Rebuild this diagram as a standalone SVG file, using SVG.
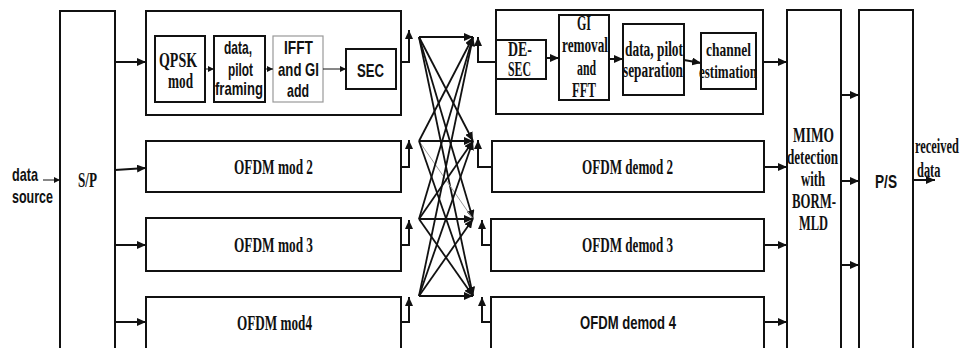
<svg xmlns="http://www.w3.org/2000/svg" width="961" height="348" viewBox="0 0 961 348">
<defs>
<marker id="ah" markerUnits="userSpaceOnUse" markerWidth="9" markerHeight="8" refX="9" refY="4" orient="auto"><path d="M0,0 L9,4 L0,8 z" fill="#111"/></marker>
<marker id="ahs" markerUnits="userSpaceOnUse" markerWidth="6" markerHeight="6" refX="6" refY="3" orient="auto"><path d="M0,0 L6,3 L0,6 z" fill="#111"/></marker>
<style>
.box{fill:#fff;stroke:#111;stroke-width:2}
.gbox{fill:#fff;stroke:#999;stroke-width:1.2}
.c{fill:none;stroke:#111;stroke-width:2;marker-end:url(#ah)}
.t{fill:none;stroke:#111;stroke-width:1;marker-end:url(#ahs)}
.x{fill:none;stroke:#111;stroke-width:1.8;marker-end:url(#ah)}
.sf{font-family:"Liberation Serif","Times New Roman",serif;font-weight:bold;font-size:20px;fill:#111}
.ss{font-family:"Liberation Sans",Arial,sans-serif;font-weight:bold;font-size:19px;fill:#111}
</style>
</defs>
<rect width="961" height="348" fill="#fff"/>

<g id="data-source"><text class="ss" x="12" y="181" textLength="26" lengthAdjust="spacingAndGlyphs">data</text><text class="ss" x="12" y="203" textLength="41" lengthAdjust="spacingAndGlyphs">source</text></g>

<g id="sp"><rect class="box" x="60" y="11" width="55" height="345"/><text class="sf" x="78" y="187" textLength="19" lengthAdjust="spacingAndGlyphs">S/P</text></g>

<g id="mod1"><rect class="box" x="146" y="11" width="255" height="104"/></g>
<g id="qpsk"><rect class="box" x="155" y="36" width="50" height="66"/><text class="sf" x="159" y="67" textLength="38" lengthAdjust="spacingAndGlyphs">QPSK</text><text class="sf" x="168" y="88" textLength="25" lengthAdjust="spacingAndGlyphs">mod</text></g>
<g id="framing"><rect class="box" x="214" y="36" width="51" height="66"/><text class="ss" x="224" y="54" textLength="28" lengthAdjust="spacingAndGlyphs">data,</text><text class="ss" x="228" y="76" textLength="25" lengthAdjust="spacingAndGlyphs">pilot</text><text class="ss" x="215" y="95" textLength="48" lengthAdjust="spacingAndGlyphs">framing</text></g>
<g id="ifft"><rect class="gbox" x="273" y="36" width="50" height="66"/><text class="ss" x="284" y="54" textLength="29" lengthAdjust="spacingAndGlyphs">IFFT</text><text class="ss" x="278" y="76" textLength="41" lengthAdjust="spacingAndGlyphs">and GI</text><text class="ss" x="287" y="97" textLength="22" lengthAdjust="spacingAndGlyphs">add</text></g>
<g id="sec"><rect class="box" x="346" y="49" width="50" height="40"/><text class="ss" x="357" y="77" textLength="27" lengthAdjust="spacingAndGlyphs">SEC</text></g>

<g id="mod2"><rect class="box" x="146" y="141" width="255" height="51"/><text class="sf" x="234" y="174" textLength="79" lengthAdjust="spacingAndGlyphs">OFDM mod 2</text></g>
<g id="mod3"><rect class="box" x="146" y="218" width="255" height="53"/><text class="sf" x="234" y="252" textLength="79" lengthAdjust="spacingAndGlyphs">OFDM mod 3</text></g>
<g id="mod4"><rect class="box" x="146" y="297" width="255" height="60"/><text class="sf" x="237" y="330" textLength="75" lengthAdjust="spacingAndGlyphs">OFDM mod4</text></g>

<g id="demod1"><rect class="box" x="496" y="10" width="267" height="104"/></g>
<g id="desec"><rect class="box" x="496" y="40" width="50" height="39"/><text class="sf" x="508" y="56" textLength="24" lengthAdjust="spacingAndGlyphs">DE-</text><text class="sf" x="508" y="76" textLength="23" lengthAdjust="spacingAndGlyphs">SEC</text></g>
<g id="gi"><rect class="box" x="559" y="15" width="50" height="85"/><text class="sf" x="577" y="30" textLength="14" lengthAdjust="spacingAndGlyphs">GI</text><text class="sf" x="562" y="52" textLength="46" lengthAdjust="spacingAndGlyphs">removal</text><text class="sf" x="577" y="75" textLength="19" lengthAdjust="spacingAndGlyphs">and</text><text class="sf" x="572" y="97" textLength="24" lengthAdjust="spacingAndGlyphs">FFT</text></g>
<g id="dps"><rect class="box" x="623" y="24" width="61" height="71"/><text class="sf" x="625" y="56" textLength="58" lengthAdjust="spacingAndGlyphs">data, pilot</text><text class="sf" x="623" y="77" textLength="60" lengthAdjust="spacingAndGlyphs">separation</text></g>
<g id="che"><rect class="box" x="701" y="33" width="55" height="56"/><text class="sf" style="font-size:19px"><tspan x="706" y="56" textLength="45" lengthAdjust="spacingAndGlyphs">channel</tspan><tspan x="699" y="78" textLength="58" lengthAdjust="spacingAndGlyphs">estimation</tspan></text></g>

<g id="demod2"><rect class="box" x="492" y="141" width="272" height="51"/><text class="sf" x="582" y="174" textLength="91" lengthAdjust="spacingAndGlyphs">OFDM demod 2</text></g>
<g id="demod3"><rect class="box" x="491" y="219" width="273" height="52"/><text class="sf" x="582" y="252" textLength="91" lengthAdjust="spacingAndGlyphs">OFDM demod 3</text></g>
<g id="demod4"><rect class="box" x="491" y="297" width="273" height="60"/><text class="ss" x="580" y="329" textLength="96" lengthAdjust="spacingAndGlyphs">OFDM demod 4</text></g>

<g id="mimo"><rect class="box" x="787" y="10" width="54" height="345"/><text class="sf" x="793" y="142" textLength="41" lengthAdjust="spacingAndGlyphs">MIMO</text><text class="sf" x="787" y="164" textLength="51" lengthAdjust="spacingAndGlyphs">detection</text><text class="sf" x="801" y="186" textLength="24" lengthAdjust="spacingAndGlyphs">with</text><text class="sf" x="792" y="208" textLength="44" lengthAdjust="spacingAndGlyphs">BORM-</text><text class="sf" x="799" y="230" textLength="29" lengthAdjust="spacingAndGlyphs">MLD</text></g>

<g id="ps"><rect class="box" x="859" y="10" width="54" height="345"/><text class="ss" x="875" y="188" textLength="22" lengthAdjust="spacingAndGlyphs">P/S</text></g>

<g id="received"><text class="sf" transform="translate(915,153) scale(0.62,1)">received</text><text class="sf" transform="translate(917,177) scale(0.62,1)">data</text></g>

<g id="connectors">
<path class="t" d="M43,180 L60,180"/>
<path class="c" d="M115,62 L146,62"/>
<path class="c" d="M115,170 L146,168"/>
<path class="c" d="M115,245 L146,245"/>
<path class="c" d="M115,322 L146,322"/>
<path class="t" d="M205,69 L214,69"/>
<path class="t" d="M265,69 L273,69"/>
<path class="t" d="M323,69 L346,69"/>
<path class="c" d="M401,62 L409,62 L409,30"/>
<path class="c" d="M401,167 L409,167 L409,140"/>
<path class="c" d="M401,245 L409,245 L409,220"/>
<path class="c" d="M401,322 L409,322 L409,297"/>

<path class="x" d="M419,37 L473,37"/>
<path class="x" d="M419,37 L473,141"/>
<path class="x" d="M419,37 L473,219"/>
<path class="x" d="M419,37 L473,296"/>
<path class="x" d="M419,141 L473,37"/>
<path class="x" d="M419,141 L473,141"/>
<path fill="none" stroke="#999" stroke-width="1" d="M419,141 L473,219"/>
<path class="x" d="M419,141 L473,296"/>
<path class="x" d="M419,219 L473,37"/>
<path class="x" d="M419,219 L473,141"/>
<path class="x" d="M419,219 L473,219"/>
<path class="x" d="M419,219 L473,296"/>
<path class="x" d="M419,296 L473,37"/>
<path class="x" d="M419,296 L473,141"/>
<path class="x" d="M419,296 L473,219"/>
<path class="x" d="M419,296 L473,296"/>

<path class="c" d="M496,62 L478,62 L478,37"/>
<path class="c" d="M492,167 L478,167 L478,140"/>
<path class="c" d="M491,245 L482,245 L482,220"/>
<path class="c" d="M491,322 L482,322 L482,297"/>
<path class="c" d="M546,58 L559,58"/>
<path class="c" d="M609,59 L623,59"/>
<path class="c" d="M684,60 L701,63"/>
<path class="c" d="M763,62 L787,62"/>
<path class="c" d="M764,167 L787,167"/>
<path class="c" d="M764,245 L787,245"/>
<path class="c" d="M764,322 L787,322"/>
<path class="c" d="M841,95 L859,95"/>
<path class="c" d="M841,181 L859,181"/>
<path class="c" d="M841,265 L859,265"/>
<path class="c" d="M913,180 L935,180"/>
</g>
</svg>
